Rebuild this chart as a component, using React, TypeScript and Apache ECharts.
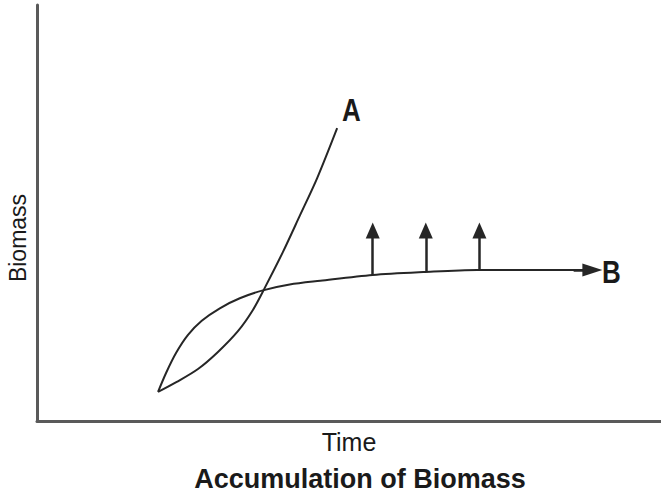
import React, { useEffect, useRef } from "react";
import * as echarts from "echarts";

// Curve A: fast accumulation (time, biomass)
const timeA = [19.4, 22.4, 25.8, 29.0, 32.2, 34.6, 36.5, 39.4, 42.1, 44.9, 48.1];
const biomassA = [7.0, 9.4, 12.5, 16.6, 21.6, 26.7, 32.0, 40.6, 49.3, 58.4, 70.4];
// Curve B: slow steady accumulation
const timeB = [19.4, 20.7, 22.3, 24.2, 26.4, 29.3, 32.5, 36.2, 40.5, 45.4, 53.8, 61.9, 70.5, 80.6, 88.3];
const biomassB = [7.0, 11.6, 16.4, 20.7, 24.1, 27.1, 29.5, 31.4, 32.8, 33.7, 35.1, 35.8, 36.3, 36.3, 36.3];
// Upward arrows on curve B
const arrowTimes = [53.8, 62.3, 70.9];
const arrowBase = [35.1, 35.8, 36.3];
const arrowTip = [45.8, 45.8, 45.8];
// end arrow of curve B
const bArrowFrom = [86.0, 36.3];
const bArrowTo = [89.0, 36.3];

const labels = { a: "A", b: "B", x: "Time", y: "Biomass", title: "Accumulation of Biomass" };

const FONT = "'Liberation Sans', Arial, Helvetica, sans-serif";
const INK = "#262626";

export default function App() {
  const ref = useRef<HTMLDivElement>(null);
  useEffect(() => {
    if (!ref.current) return;
    const chart = echarts.init(ref.current, undefined, { renderer: "svg" });
    const dataA = timeA.map((t, i) => [t, biomassA[i]]);
    const dataB = timeB.map((t, i) => [t, biomassB[i]]);
    const arrowLines = arrowTimes.map((t, i) => [
      { coord: [t, arrowBase[i]] },
      { coord: [t, arrowTip[i]] },
    ]);
    chart.setOption({
      animation: false,
      backgroundColor: "#ffffff",
      grid: { left: 37, right: 0, top: 5, bottom: 75 },
      xAxis: {
        type: "value",
        min: 0,
        max: 100,
        name: labels.x,
        nameLocation: "middle",
        nameGap: 8,
        nameTextStyle: { fontFamily: FONT, fontSize: 25, color: "#1a1a1a", verticalAlign: "top" },
        axisLine: { show: true, lineStyle: { color: "#5a5a5a", width: 3 } },
        axisTick: { show: false },
        axisLabel: { show: false },
        splitLine: { show: false },
      },
      yAxis: {
        type: "value",
        min: 0,
        max: 100,
        axisLine: { show: true, lineStyle: { color: "#5a5a5a", width: 3 } },
        axisTick: { show: false },
        axisLabel: { show: false },
        splitLine: { show: false },
      },
      series: [
        {
          type: "line",
          name: "A",
          data: dataA,
          smooth: 0.3,
          showSymbol: false,
          symbol: "none",
          lineStyle: { color: INK, width: 2 },
        },
        {
          type: "line",
          name: "B",
          data: dataB,
          smooth: 0.3,
          showSymbol: false,
          symbol: "none",
          lineStyle: { color: INK, width: 2 },
          markLine: {
            silent: true,
            symbol: ["none", "triangle"],
            symbolSize: [14, 16],
            label: { show: false },
            lineStyle: { color: INK, width: 2.5, type: "solid" },
            data: [
              ...arrowLines,
              [
                { coord: bArrowFrom, symbolSize: [13, 20] },
                { coord: bArrowTo, symbolSize: [13, 20] },
              ],
            ],
          },
        },
      ],
      graphic: [
        {
          type: "text",
          left: 342,
          top: 95,
          style: { text: labels.a, font: `bold 26px ${FONT}`, fill: "#1a1a1a" },
          scaleY: 1.2,
        },
        {
          type: "text",
          left: 602,
          top: 257,
          style: { text: labels.b, font: `bold 26px ${FONT}`, fill: "#1a1a1a" },
          scaleY: 1.2,
        },
        {
          type: "text",
          x: 18,
          y: 238,
          rotation: Math.PI / 2,
          style: {
            text: labels.y,
            font: `23px ${FONT}`,
            fill: "#1a1a1a",
            align: "center",
            verticalAlign: "middle",
          },
        },
        {
          type: "text",
          x: 360,
          y: 479,
          style: {
            text: labels.title,
            font: `bold 27px ${FONT}`,
            fill: "#1a1a1a",
            align: "center",
            verticalAlign: "middle",
          },
        },
      ],
    });
    return () => chart.dispose();
  }, []);
  return (
    <div
      ref={ref}
      style={{ position: "absolute", left: 0, top: 0, width: 661, height: 496, background: "#fff" }}
    />
  );
}
